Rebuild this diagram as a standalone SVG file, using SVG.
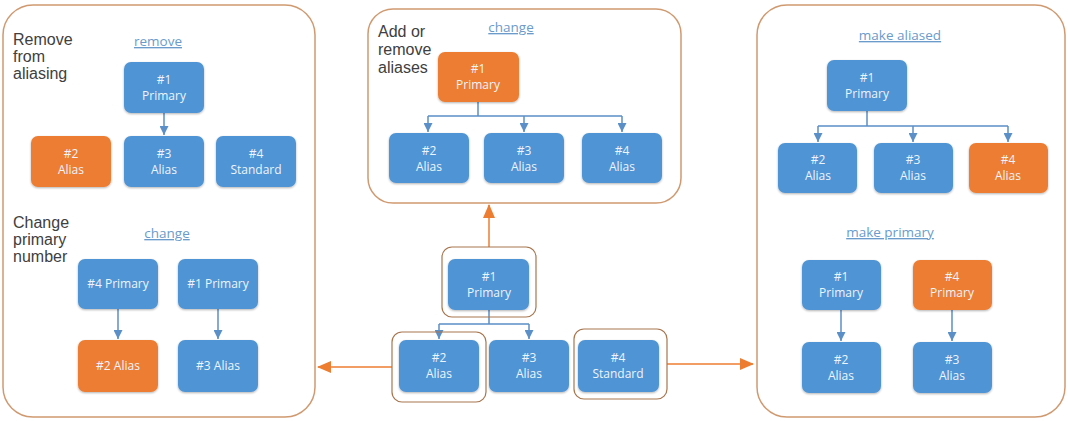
<svg xmlns="http://www.w3.org/2000/svg" width="1068" height="421" viewBox="0 0 1068 421">
<defs>
<marker id="ab" markerWidth="9" markerHeight="9" refX="9" refY="4.5" orient="auto" markerUnits="userSpaceOnUse"><path d="M0,0 L9,4.5 L0,9 Z" fill="#5a8fc8"/></marker>
<marker id="ao" markerWidth="14" markerHeight="12" refX="13" refY="6" orient="auto" markerUnits="userSpaceOnUse"><path d="M0,0 L14,6 L0,12 Z" fill="#ED7D31"/></marker>
<filter id="sh" x="-10%" y="-10%" width="120%" height="130%"><feGaussianBlur in="SourceAlpha" stdDeviation="1.2"/><feOffset dy="1"/><feComponentTransfer><feFuncA type="linear" slope="0.3"/></feComponentTransfer><feMerge><feMergeNode/><feMergeNode in="SourceGraphic"/></feMerge></filter>
</defs>
<style>
.panel{fill:#fff;stroke:#d09a70;stroke-width:1.5}
.frame{fill:none;stroke:#a8764e;stroke-width:1.2}
.b{fill:#5094d4;filter:url(#sh)}
.o{fill:#ED7D31;filter:url(#sh)}
.t{font-family:"Open Sans","Liberation Sans",sans-serif;font-size:12px;fill:#eef4fb;text-anchor:middle}
.h{font-family:"Liberation Sans",Arial,sans-serif;font-size:16px;fill:#404040}
.u{font-family:"Open Sans","Liberation Sans",sans-serif;font-size:13.5px;fill:#6a9bcb;text-anchor:middle;text-decoration:underline}
.cb{fill:none;stroke:#5a8fc8;stroke-width:1.5}
.co{fill:none;stroke:#ED7D31;stroke-width:1.5}
</style>
<rect width="1068" height="421" fill="#fff"/>
<g id="panel-left">
<rect class="panel" x="3" y="5" width="312" height="412" rx="30"/>
<text class="h" x="13" y="45">Remove</text>
<text class="h" x="13" y="62">from</text>
<text class="h" x="13" y="79">aliasing</text>
<text class="u" x="158" y="46">remove</text>
<text class="h" x="13" y="228">Change</text>
<text class="h" x="13" y="245">primary</text>
<text class="h" x="13" y="262">number</text>
<text class="u" x="167" y="238">change</text>
</g>
<g id="panel-center">
<rect class="panel" x="368" y="9" width="313" height="194" rx="25"/>
<text class="h" x="378" y="37">Add or</text>
<text class="h" x="378" y="55">remove</text>
<text class="h" x="378" y="73">aliases</text>
<text class="u" x="511" y="32">change</text>
</g>
<g id="panel-right">
<rect class="panel" x="757" y="5" width="308" height="412" rx="30"/>
<text class="u" x="900" y="40">make aliased</text>
<text class="u" x="890" y="237">make primary</text>
</g>
<g id="connectors">
<path class="cb" d="M164,113 V135" marker-end="url(#ab)"/>
<path class="cb" d="M118,309 V339" marker-end="url(#ab)"/>
<path class="cb" d="M218,309 V339" marker-end="url(#ab)"/>
<path class="cb" d="M478,102 V116 M428,116 H622"/>
<path class="cb" d="M428,116 V132" marker-end="url(#ab)"/>
<path class="cb" d="M524,116 V132" marker-end="url(#ab)"/>
<path class="cb" d="M622,116 V132" marker-end="url(#ab)"/>
<path class="cb" d="M489,310 V324 M439,324 H529"/>
<path class="cb" d="M439,324 V339" marker-end="url(#ab)"/>
<path class="cb" d="M529,324 V339" marker-end="url(#ab)"/>
<path class="cb" d="M867,111 V126 M818,126 H1008"/>
<path class="cb" d="M818,126 V142" marker-end="url(#ab)"/>
<path class="cb" d="M913,126 V142" marker-end="url(#ab)"/>
<path class="cb" d="M1008,126 V142" marker-end="url(#ab)"/>
<path class="cb" d="M841,310 V341" marker-end="url(#ab)"/>
<path class="cb" d="M952,310 V341" marker-end="url(#ab)"/>
<path class="co" d="M489,247 V205" marker-end="url(#ao)"/>
<path class="co" d="M392,367 H318" marker-end="url(#ao)"/>
<path class="co" d="M667,364 H753" marker-end="url(#ao)"/>
</g>
<g id="l-p1"><rect class="b" x="124" y="62" width="80" height="51" rx="7"/><text class="t" x="164" y="84">#1</text><text class="t" x="164" y="100">Primary</text></g>
<g id="l-a2"><rect class="o" x="31" y="136" width="80" height="51" rx="7"/><text class="t" x="71" y="158">#2</text><text class="t" x="71" y="174">Alias</text></g>
<g id="l-a3"><rect class="b" x="124" y="136" width="80" height="51" rx="7"/><text class="t" x="164" y="158">#3</text><text class="t" x="164" y="174">Alias</text></g>
<g id="l-s4"><rect class="b" x="216" y="136" width="80" height="51" rx="7"/><text class="t" x="256" y="158">#4</text><text class="t" x="256" y="174">Standard</text></g>
<g id="l-p4"><rect class="b" x="78" y="259" width="80" height="50" rx="7"/><text class="t" x="118" y="288">#4 Primary</text></g>
<g id="l-p1b"><rect class="b" x="178" y="259" width="80" height="50" rx="7"/><text class="t" x="218" y="288">#1 Primary</text></g>
<g id="l-a2b"><rect class="o" x="78" y="340" width="80" height="52" rx="7"/><text class="t" x="118" y="370">#2 Alias</text></g>
<g id="l-a3b"><rect class="b" x="178" y="340" width="80" height="52" rx="7"/><text class="t" x="218" y="370">#3 Alias</text></g>
<g id="c-p1"><rect class="o" x="438" y="52" width="81" height="50" rx="7"/><text class="t" x="478" y="73">#1</text><text class="t" x="478" y="89">Primary</text></g>
<g id="c-a2"><rect class="b" x="389" y="133" width="80" height="50" rx="7"/><text class="t" x="429" y="155">#2</text><text class="t" x="429" y="171">Alias</text></g>
<g id="c-a3"><rect class="b" x="484" y="133" width="80" height="50" rx="7"/><text class="t" x="524" y="155">#3</text><text class="t" x="524" y="171">Alias</text></g>
<g id="c-a4"><rect class="b" x="582" y="133" width="80" height="50" rx="7"/><text class="t" x="622" y="155">#4</text><text class="t" x="622" y="171">Alias</text></g>
<g id="m-p1"><rect class="frame" x="442" y="247" width="94" height="70" rx="10"/><rect class="b" x="448" y="259" width="81" height="51" rx="7"/><text class="t" x="489" y="281">#1</text><text class="t" x="489" y="297">Primary</text></g>
<g id="m-a2"><rect class="frame" x="392" y="332" width="94" height="70" rx="10"/><rect class="b" x="399" y="340" width="80" height="52" rx="7"/><text class="t" x="439" y="362">#2</text><text class="t" x="439" y="378">Alias</text></g>
<g id="m-a3"><rect class="b" x="489" y="340" width="80" height="52" rx="7"/><text class="t" x="529" y="362">#3</text><text class="t" x="529" y="378">Alias</text></g>
<g id="m-s4"><rect class="frame" x="574" y="329" width="93" height="70" rx="10"/><rect class="b" x="578" y="340" width="81" height="52" rx="7"/><text class="t" x="618" y="362">#4</text><text class="t" x="618" y="378">Standard</text></g>
<g id="r-p1"><rect class="b" x="827" y="60" width="80" height="51" rx="7"/><text class="t" x="867" y="82">#1</text><text class="t" x="867" y="98">Primary</text></g>
<g id="r-a2"><rect class="b" x="778" y="143" width="79" height="50" rx="7"/><text class="t" x="818" y="164">#2</text><text class="t" x="818" y="180">Alias</text></g>
<g id="r-a3"><rect class="b" x="874" y="143" width="79" height="50" rx="7"/><text class="t" x="913" y="164">#3</text><text class="t" x="913" y="180">Alias</text></g>
<g id="r-a4"><rect class="o" x="969" y="143" width="79" height="50" rx="7"/><text class="t" x="1008" y="164">#4</text><text class="t" x="1008" y="180">Alias</text></g>
<g id="r-p1b"><rect class="b" x="802" y="260" width="79" height="50" rx="7"/><text class="t" x="841" y="281">#1</text><text class="t" x="841" y="297">Primary</text></g>
<g id="r-p4"><rect class="o" x="913" y="260" width="79" height="50" rx="7"/><text class="t" x="952" y="281">#4</text><text class="t" x="952" y="297">Primary</text></g>
<g id="r-a2b"><rect class="b" x="802" y="342" width="79" height="51" rx="7"/><text class="t" x="841" y="364">#2</text><text class="t" x="841" y="380">Alias</text></g>
<g id="r-a3b"><rect class="b" x="913" y="342" width="79" height="51" rx="7"/><text class="t" x="952" y="364">#3</text><text class="t" x="952" y="380">Alias</text></g>
</svg>
